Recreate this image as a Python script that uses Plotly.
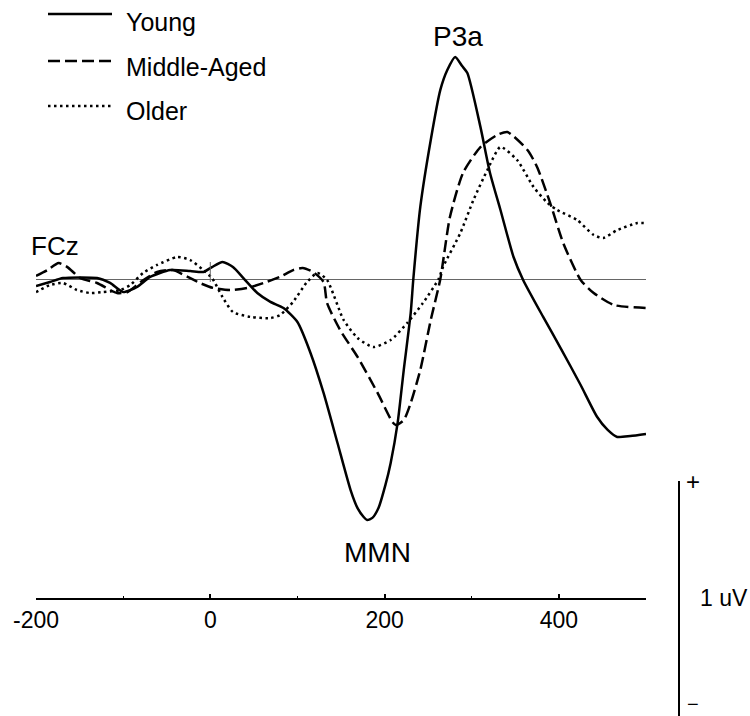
import plotly.graph_objects as go

# ---------------- data (time in ms, amplitude in uV) ----------------
time_young = [-200, -184, -169, -130, -115, -100, -84, -69, -46, -23, -8, 2, 14, 26, 38, 54, 69, 84,
              100, 115, 130, 146, 161, 169, 176, 180, 186, 193, 201, 207, 215, 222, 230, 233, 241,
              253, 264, 272, 281, 289, 295, 310, 321, 333, 348, 359, 382, 402, 425, 444, 456, 467,
              482, 500]
uv_young = [-0.030, -0.013, 0.004, 0.004, -0.017, -0.056, -0.034, 0.009, 0.038, 0.034, 0.030, 0.051,
            0.073, 0.051, 0.004, -0.060, -0.098, -0.124, -0.184, -0.316, -0.487, -0.701, -0.902,
            -0.979, -1.017, -1.030, -1.021, -0.979, -0.880, -0.786, -0.615, -0.389, -0.145, 0.000,
            0.308, 0.594, 0.808, 0.893, 0.949, 0.910, 0.880, 0.650, 0.453, 0.295, 0.094, -0.004,
            -0.162, -0.295, -0.453, -0.590, -0.645, -0.675, -0.671, -0.662]

time_middle = [-200, -187, -174, -164, -149, -130, -107, -95, -80, -61, -43, -26, -12, 3, 23, 43, 61,
               80, 95, 106, 118, 130, 134, 149, 169, 192, 209, 213, 222, 230, 241, 253, 264, 275,
               290, 310, 329, 341, 364, 375, 390, 405, 425, 440, 463, 500]
uv_middle = [0.013, 0.038, 0.068, 0.051, 0.004, -0.017, -0.060, -0.056, -0.013, 0.030, 0.038, 0.009,
             -0.017, -0.038, -0.047, -0.038, -0.017, 0.009, 0.038, 0.047, 0.030, -0.013, -0.103,
             -0.218, -0.333, -0.487, -0.611, -0.624, -0.603, -0.530, -0.389, -0.175, 0.000, 0.265,
             0.453, 0.564, 0.615, 0.628, 0.551, 0.479, 0.325, 0.154, -0.004, -0.060, -0.111, -0.124]

time_older = [-200, -184, -169, -153, -138, -123, -103, -92, -77, -61, -38, -23, -8, 2, 14, 26, 46,
              69, 80, 95, 111, 123, 134, 153, 169, 187, 207, 226, 244, 262, 267, 287, 302, 318,
              333, 352, 371, 387, 398, 421, 440, 451, 467, 490, 500]
uv_older = [-0.056, -0.026, -0.017, -0.047, -0.060, -0.056, -0.047, -0.026, 0.026, 0.060, 0.094,
            0.081, 0.038, 0.004, -0.077, -0.141, -0.162, -0.167, -0.154, -0.098, -0.013, 0.026,
            -0.004, -0.175, -0.252, -0.291, -0.261, -0.188, -0.103, 0.000, 0.051, 0.197, 0.338,
            0.466, 0.564, 0.509, 0.393, 0.325, 0.295, 0.252, 0.188, 0.175, 0.209, 0.239, 0.239]

series_names = ["Young", "Middle-Aged", "Older"]
x_tick_values = [-200, 0, 200, 400]
x_range = [-200, 500]
electrode_label = "FCz"
peak_labels = ["P3a", "MMN"]
scale_label = "1 uV"

# ---------------- layout geometry ----------------
W, H = 750, 716
ML, MR = 36, 104
PX_PER_UV = 234.0
ZERO_PX = 279.0
Y_TOP = ZERO_PX / PX_PER_UV
Y_BOT = -(H - ZERO_PX) / PX_PER_UV
FONT = "Arial, Liberation Sans, sans-serif"


def px(x):
    return (x - ML) / (W - ML - MR)


def py(y):
    return (H - y) / H


styles = [dict(dash="solid"), dict(dash="12px,5px"), dict(dash="2.5px,3.5px")]
series = [(time_young, uv_young), (time_middle, uv_middle), (time_older, uv_older)]

fig = go.Figure()
for (t, v), st, name in zip(series, styles, series_names):
    fig.add_trace(go.Scatter(
        x=t, y=v, mode="lines", name=name, showlegend=False, hoverinfo="skip",
        line=dict(color="black", width=2.5, dash=st["dash"], shape="spline", smoothing=0.6),
    ))

shapes = []
annotations = []

# zero-time marker
shapes.append(dict(type="line", xref="x", yref="paper", x0=0, x1=0, y0=py(262), y1=py(282),
                   line=dict(color="#666666", width=1)))
# scale bar
shapes.append(dict(type="line", xref="paper", yref="paper", x0=px(679), x1=px(679),
                   y0=py(481), y1=py(716), line=dict(color="black", width=2)))

# manual legend
leg_y = [14, 61, 106]
leg_text_y = [22, 67, 111]
for name, st, ly, ty in zip(series_names, styles, leg_y, leg_text_y):
    shapes.append(dict(type="line", xref="paper", yref="paper", x0=px(48), x1=px(112),
                       y0=py(ly), y1=py(ly), line=dict(color="black", width=2.5, dash=st["dash"])))
    annotations.append(dict(text=name, xref="paper", yref="paper", x=px(124), y=py(ty),
                            xanchor="left", yanchor="middle", showarrow=False,
                            font=dict(family=FONT, size=25, color="black")))

annotations += [
    dict(text=electrode_label, xref="paper", yref="paper", x=px(55), y=py(246),
         xanchor="center", yanchor="middle", showarrow=False,
         font=dict(family=FONT, size=26, color="black")),
    dict(text=peak_labels[0], xref="paper", yref="paper", x=px(458), y=py(36),
         xanchor="center", yanchor="middle", showarrow=False,
         font=dict(family=FONT, size=28, color="black")),
    dict(text=peak_labels[1], xref="paper", yref="paper", x=px(377), y=py(552),
         xanchor="center", yanchor="middle", showarrow=False,
         font=dict(family=FONT, size=28, color="black")),
    dict(text=scale_label, xref="paper", yref="paper", x=px(724), y=py(598),
         xanchor="center", yanchor="middle", showarrow=False,
         font=dict(family=FONT, size=23, color="black")),
    dict(text="+", xref="paper", yref="paper", x=px(693), y=py(481),
         xanchor="center", yanchor="middle", showarrow=False,
         font=dict(family=FONT, size=24, color="black")),
    dict(text="\u2212", xref="paper", yref="paper", x=px(693), y=0,
         xanchor="center", yanchor="bottom", showarrow=False, borderpad=0,
         font=dict(family=FONT, size=20, color="black")),
]

fig.update_layout(
    width=W, height=H,
    margin=dict(l=ML, r=MR, t=0, b=0, pad=0),
    paper_bgcolor="white", plot_bgcolor="white",
    showlegend=False,
    shapes=shapes,
    annotations=annotations,
    xaxis=dict(
        range=x_range, anchor="free", position=py(599), automargin=False,
        showline=True, linecolor="black", linewidth=2,
        ticks="inside", ticklen=4, tickwidth=1.5, tickcolor="black",
        tickmode="array", tickvals=x_tick_values, ticktext=[str(v) for v in x_tick_values],
        minor=dict(tickmode="linear", tick0=-200, dtick=100, ticks="inside", ticklen=2,
                   tickwidth=1, tickcolor="black", showgrid=False),
        ticklabelstandoff=0,
        tickfont=dict(family=FONT, size=23, color="black"),
        showgrid=False, zeroline=False, fixedrange=True,
    ),
    yaxis=dict(
        range=[Y_BOT, Y_TOP], automargin=False,
        showticklabels=False, ticks="", showgrid=False, showline=False,
        zeroline=True, zerolinecolor="#666666", zerolinewidth=1, fixedrange=True,
    ),
)

fig.write_html("out.html", config={"displayModeBar": False})
